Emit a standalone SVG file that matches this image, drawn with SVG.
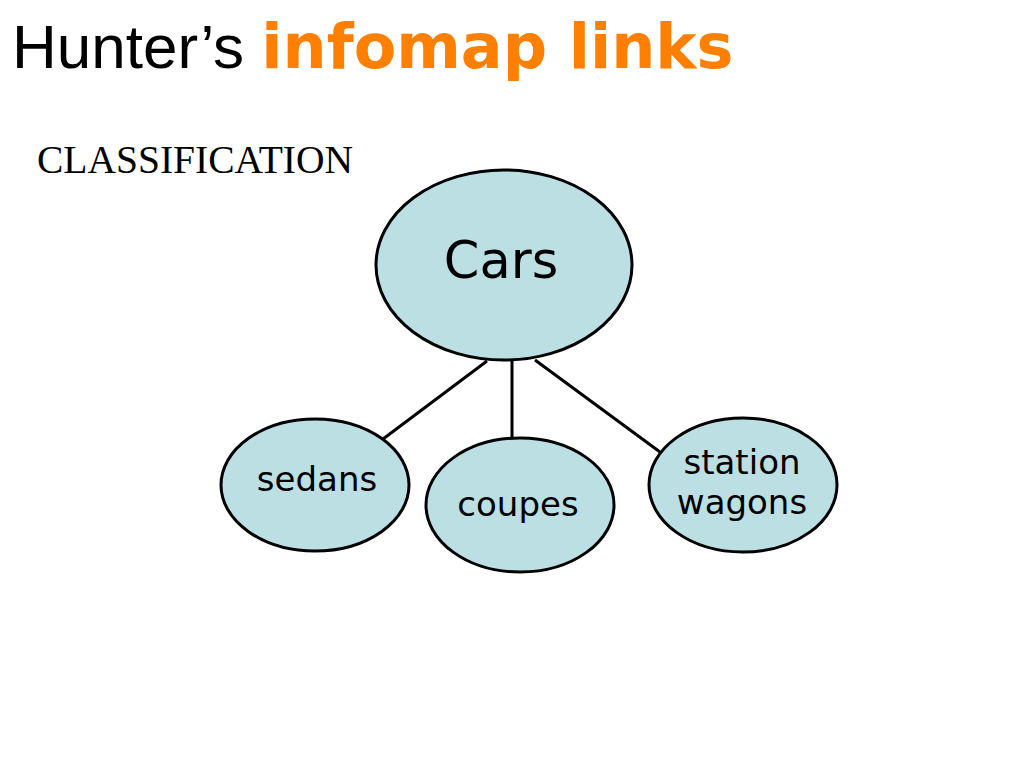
<svg xmlns="http://www.w3.org/2000/svg" width="1024" height="768" viewBox="0 0 1024 768">
<style>
.node{fill:#BBDFE3;stroke:#000;stroke-width:3}
.lbl{font-family:"DejaVu Sans","Verdana",sans-serif;fill:#000;text-anchor:middle}
.edge{stroke:#000;stroke-width:3;fill:none}
</style>
<rect width="1024" height="768" fill="#fff"/>
<text x="12" y="68" font-family="Liberation Sans, Arial, sans-serif" font-size="62" fill="#000">Hunter’s <tspan font-family="DejaVu Sans, Verdana, sans-serif" font-weight="bold" fill="#FF8000" font-size="62">infomap links</tspan></text>
<text x="37" y="173" font-family="Liberation Serif, Times New Roman, serif" font-size="39.5" fill="#000">CLASSIFICATION</text>
<g id="connectors">
<line class="edge" x1="487" y1="361" x2="383" y2="439"/>
<line class="edge" x1="512" y1="361" x2="512" y2="438"/>
<line class="edge" x1="535" y1="360" x2="660" y2="452"/>
</g>
<g id="cars">
<ellipse class="node" cx="504" cy="265" rx="128" ry="95"/>
<text class="lbl" x="501" y="278" font-size="51">Cars</text>
</g>
<g id="sedans">
<ellipse class="node" cx="315" cy="485" rx="94" ry="66"/>
<text class="lbl" x="317" y="491" font-size="34">sedans</text>
</g>
<g id="coupes">
<ellipse class="node" cx="520" cy="505" rx="94" ry="67"/>
<text class="lbl" x="518" y="516" font-size="34">coupes</text>
</g>
<g id="station-wagons">
<ellipse class="node" cx="743" cy="485" rx="94" ry="67"/>
<text class="lbl" x="742" y="474" font-size="34">station</text>
<text class="lbl" x="742" y="514" font-size="34">wagons</text>
</g>
</svg>
